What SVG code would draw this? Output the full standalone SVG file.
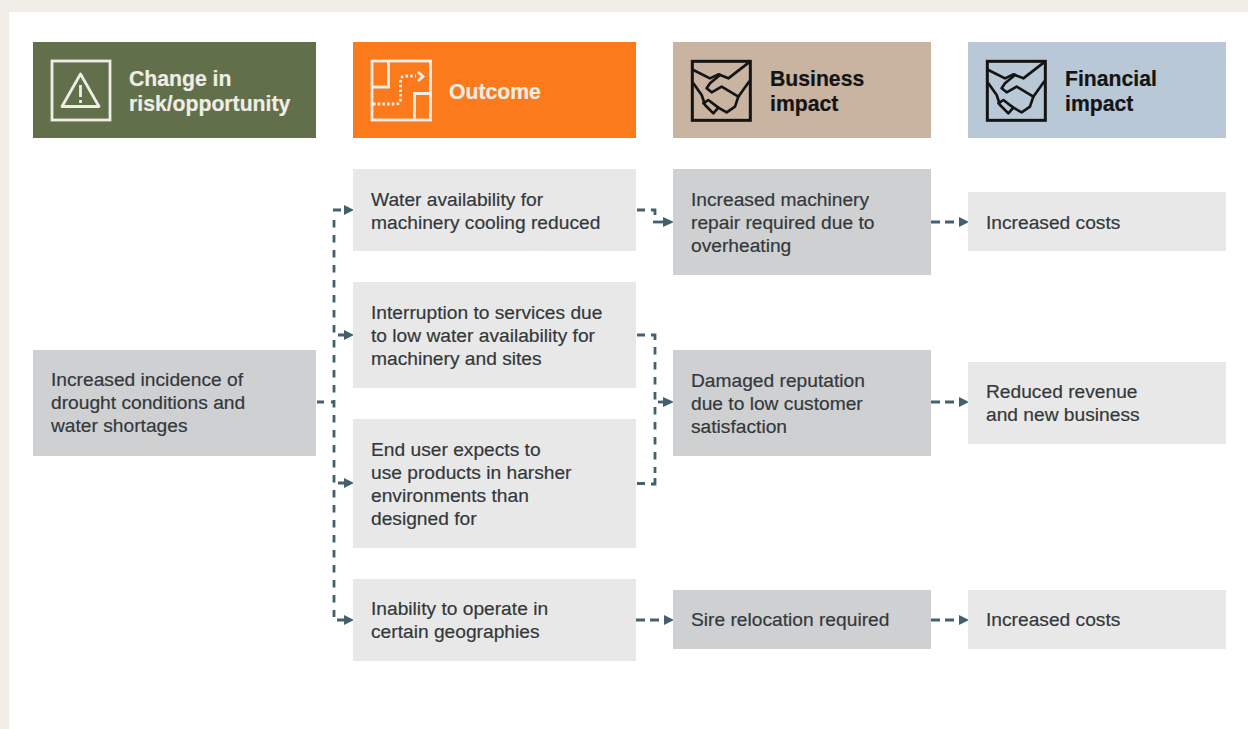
<svg xmlns="http://www.w3.org/2000/svg" width="1248" height="729" viewBox="0 0 1248 729">
<style>
text{font-family:"Liberation Sans",Arial,sans-serif;font-size:19.2px;fill:#33383b;stroke:#33383b;stroke-width:.2}
text.h{font-size:21.2px;font-weight:700}
text.w{fill:#f0ede6;stroke:#f0ede6}
text.k{fill:#141414;stroke:#141414}
.out{fill:#e8e8e8}
.mid{fill:#cfd0d2}
.c{fill:none;stroke:#43606c;stroke-width:2.8;stroke-dasharray:7.500 7.500}
.a{fill:none;stroke:#43606c;stroke-width:2.8}
.ah{fill:#43606c}
.iw{fill:none;stroke:#f0ede6;stroke-width:2.8}
.id{fill:none;stroke:#f0ede6;stroke-width:2.8;stroke-dasharray:2.500 2.200}
.ik{fill:none;stroke:#141414;stroke-width:8;stroke-linejoin:round;stroke-linecap:round}
</style>
<defs>
<g id="shake" transform="scale(.3333)">
<rect x="22" y="19" width="174" height="177" fill="none" stroke="#141414" stroke-width="9"/>
<path class="ik" d="M25 45L75 70L100 58L130 70L192 22"/>
<path class="ik" d="M105 60L75 85L65 100L80 112L110 95L160 125L192 80"/>
<path class="ik" d="M25 85L50 120L60 150L85 175L100 158L70 135L55 145"/>
<path class="ik" d="M160 125L150 155L125 172L100 158"/>
</g>
</defs>
<rect width="1248" height="729" fill="#f0ede6"/>
<rect x="9" y="12" width="1239" height="717" fill="#fff"/>

<g id="connectors">
<path class="a" d="M317 402H324M331 402H334"/>
<path class="c" d="M334 220V617"/>
<path class="a" d="M333 210H341M337 620H346M338 335H346M338 483H346"/>
<path class="ah" d="M344 205L354 210L344 215Z"/>
<path class="ah" d="M344 330L354 335L344 340Z"/>
<path class="ah" d="M344 478L354 483L344 488Z"/>
<path class="ah" d="M344 615L354 620L344 625Z"/>

<path class="a" d="M637 210H645M651 210H655V215"/>
<path class="a" d="M653 222H665"/>
<path class="ah" d="M663 217L674 222L663 227Z"/>

<path class="a" d="M637 335H645M651 335H655V340"/>
<path class="c" d="M655 347V473"/>
<path class="a" d="M655 478V484H651M645 483.500H637"/>
<path class="a" d="M658 402H665"/>
<path class="ah" d="M663 397L674 402L663 407Z"/>

<path class="a" d="M636 620H645M650 620H659"/>
<path class="ah" d="M664 615L674 620L664 625Z"/>

<path class="a" d="M931 222H940M945 222H954"/>
<path class="ah" d="M959 217L969 222L959 227Z"/>
<path class="a" d="M931 402H940M945 402H954"/>
<path class="ah" d="M959 397L969 402L959 407Z"/>
<path class="a" d="M931 620H940M945 620H954"/>
<path class="ah" d="M959 615L969 620L959 625Z"/>
</g>

<g id="h1">
<rect x="33" y="42" width="283" height="96" fill="#616f4b"/>
<rect x="52" y="61" width="58" height="59" class="iw"/>
<path class="iw" d="M80.500 74L62 106.500H99Z" stroke-linejoin="round"/>
<path class="iw" d="M80.500 85V97M80.500 100V103"/>
<text class="h w" x="129" y="86">Change in</text>
<text class="h w" x="129" y="111">risk/opportunity</text>
</g>
<g id="h2">
<rect x="353" y="42" width="283" height="96" fill="#fb7a1c"/>
<rect x="372" y="61" width="58.500" height="59" class="iw"/>
<path class="iw" d="M372 87H388.500V61M430 93.500H414.500V120"/>
<path class="id" d="M373 104H396Q400.500 104 400.500 99V81Q400.500 76 406 76H416"/>
<path class="iw" d="M418 72L423 76.500L418 81" stroke-width="2.400"/>
<text class="h w" x="449" y="99">Outcome</text>
</g>
<g id="h3">
<rect x="673" y="42" width="258" height="96" fill="#c9b3a1"/>
<use href="#shake" x="685" y="55"/>
<text class="h k" x="770" y="86">Business</text>
<text class="h k" x="770" y="111">impact</text>
</g>
<g id="h4">
<rect x="968" y="42" width="258" height="96" fill="#b9c8d6"/>
<use href="#shake" x="980" y="55"/>
<text class="h k" x="1065" y="86">Financial</text>
<text class="h k" x="1065" y="111">impact</text>
</g>

<g id="n-drought">
<rect x="33" y="350" width="283" height="106" class="mid"/>
<text x="51" y="386">Increased incidence of</text>
<text x="51" y="409">drought conditions and</text>
<text x="51" y="432">water shortages</text>
</g>
<g id="n-water">
<rect x="353" y="169" width="283" height="82" class="out"/>
<text x="371" y="206">Water availability for</text>
<text x="371" y="229">machinery cooling reduced</text>
</g>
<g id="n-interruption">
<rect x="353" y="282" width="283" height="106" class="out"/>
<text x="371" y="319">Interruption to services due</text>
<text x="371" y="342">to low water availability for</text>
<text x="371" y="365">machinery and sites</text>
</g>
<g id="n-enduser">
<rect x="353" y="419" width="283" height="129" class="out"/>
<text x="371" y="456">End user expects to</text>
<text x="371" y="479">use products in harsher</text>
<text x="371" y="502">environments than</text>
<text x="371" y="525">designed for</text>
</g>
<g id="n-inability">
<rect x="353" y="579" width="283" height="82" class="out"/>
<text x="371" y="615">Inability to operate in</text>
<text x="371" y="638">certain geographies</text>
</g>
<g id="n-repair">
<rect x="673" y="169" width="258" height="106" class="mid"/>
<text x="691" y="206">Increased machinery</text>
<text x="691" y="229">repair required due to</text>
<text x="691" y="252">overheating</text>
</g>
<g id="n-reputation">
<rect x="673" y="350" width="258" height="106" class="mid"/>
<text x="691" y="387">Damaged reputation</text>
<text x="691" y="410">due to low customer</text>
<text x="691" y="433">satisfaction</text>
</g>
<g id="n-relocation">
<rect x="673" y="590" width="258" height="59" class="mid"/>
<text x="691" y="626">Sire relocation required</text>
</g>
<g id="n-costs1">
<rect x="968" y="192" width="258" height="59" class="out"/>
<text x="986" y="229">Increased costs</text>
</g>
<g id="n-revenue">
<rect x="968" y="362" width="258" height="82" class="out"/>
<text x="986" y="398">Reduced revenue</text>
<text x="986" y="421">and new business</text>
</g>
<g id="n-costs2">
<rect x="968" y="590" width="258" height="59" class="out"/>
<text x="986" y="626">Increased costs</text>
</g>
</svg>
